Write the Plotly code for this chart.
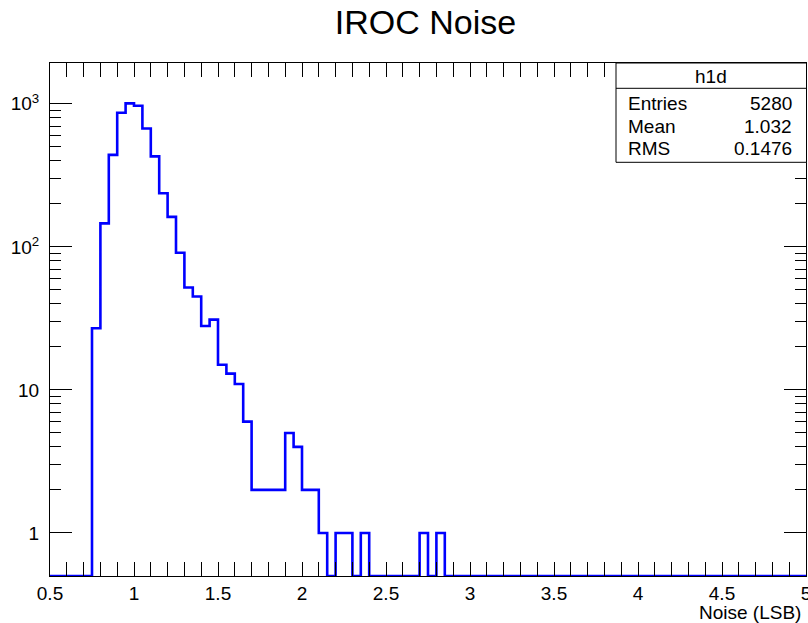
import plotly.graph_objects as go
import math

# Histogram definition (h1d): 90 bins from 0.5 to 5.0
x_lo = 0.5
x_hi = 5.0
n_bins = 90

# Bin contents (bins of width 0.05 starting at 0.5)
counts = [
    0, 0, 0, 0, 0,            # 0.50 - 0.75
    27, 146, 440, 866, 1008,  # 0.75 - 1.00
    970, 673, 429, 237, 162,  # 1.00 - 1.25
    91, 52, 45, 28, 31,       # 1.25 - 1.50
    15, 13, 11, 6, 2,         # 1.50 - 1.75
    2, 2, 2, 5, 4,            # 1.75 - 2.00
    2, 2, 1, 0, 1,            # 2.00 - 2.25
    1, 0, 1, 0, 0,            # 2.25 - 2.50
    0, 0, 0, 0, 1,            # 2.50 - 2.75
    0, 1, 0, 0, 0,            # 2.75 - 3.00
    0, 0, 0, 0, 0, 0, 0, 0, 0, 0,   # 3.00 - 3.50
    0, 0, 0, 0, 0, 0, 0, 0, 0, 0,   # 3.50 - 4.00
    0, 0, 0, 0, 0, 0, 0, 0, 0, 0,   # 4.00 - 4.50
    0, 0, 0, 0, 0, 0, 0, 0, 0, 0,   # 4.50 - 5.00
]

title_text = "IROC Noise"
x_title = "Noise (LSB)"
stats_name = "h1d"
stats_labels = ["Entries", "Mean", "RMS"]
stats_values = ["5280", "1.032", "0.1476"]

y_tickvals = [1, 10, 100, 1000]
y_ticktext = ["1", "10", "10<sup>2</sup>", "10<sup>3</sup>"]
y_minor_vals = [m * d for d in (1, 10, 100, 1000) for m in range(2, 10)]

y_min = 0.5
y_max = 1930.0

bin_w = (x_hi - x_lo) / n_bins
edges = [x_lo + i * bin_w for i in range(n_bins + 1)]
y_plot = [max(c, y_min) for c in counts]
y_plot = y_plot + [y_plot[-1]]

yr = [math.log10(y_min), math.log10(y_max)]

FONT = "Liberation Sans, Arial, Helvetica, sans-serif"

fig = go.Figure()
fig.add_trace(go.Scatter(
    x=edges, y=y_plot, mode="lines", line_shape="hv",
    line=dict(color="#0000ff", width=2.6), showlegend=False,
    hoverinfo="skip", yaxis="y",
))
# invisible trace on the minor-tick overlay axis
fig.add_trace(go.Scatter(
    x=[x_lo], y=[1], mode="markers", marker=dict(opacity=0),
    showlegend=False, hoverinfo="skip", yaxis="y2",
))

fig.update_layout(
    width=808, height=623,
    margin=dict(l=50, r=2, t=63, b=47),
    paper_bgcolor="white", plot_bgcolor="white",
    font=dict(family=FONT, size=19, color="black"),
    title=dict(text=title_text, x=0.5266, xanchor="center", y=1 - 22 / 623,
               yanchor="middle", font=dict(size=34, family=FONT)),
    xaxis=dict(
        range=[x_lo, x_hi], tick0=0.5, dtick=0.5, ticks="inside", ticklen=14,
        tickcolor="black", tickwidth=1, showline=True, linecolor="black",
        linewidth=1, mirror="allticks", showgrid=False, zeroline=False,
        minor=dict(dtick=0.1, tick0=0.5, ticks="inside", ticklen=7,
                   tickcolor="black", tickwidth=1, showgrid=False),
        tickfont=dict(size=19), ticklabeloverflow="allow", automargin=False,
    ),
    yaxis=dict(
        type="log", range=yr, tickvals=y_tickvals, ticktext=y_ticktext,
        ticks="inside", ticklen=22, tickcolor="black", tickwidth=1,
        showline=True, linecolor="black", linewidth=1, mirror="allticks",
        showgrid=False, zeroline=False, tickfont=dict(size=19),
        ticklabelstandoff=6, automargin=False,
    ),
    yaxis2=dict(
        type="log", range=yr, overlaying="y", side="left",
        tickvals=y_minor_vals, showticklabels=False, ticks="inside",
        ticklen=11, tickcolor="black", tickwidth=1, mirror="allticks",
        showline=False, showgrid=False, zeroline=False, automargin=False,
    ),
)

# Stats box
pw = 756.0
ph = 513.0
def px_x(x):
    return (x - 50) / pw
def px_y(y):
    return (576 - y) / ph

box_x0, box_x1 = px_x(616), px_x(806.5)
box_y1, box_y0 = 1.0, px_y(162.3)
fig.add_shape(type="rect", xref="paper", yref="paper", x0=box_x0, x1=box_x1,
              y0=box_y0, y1=box_y1, line=dict(color="black", width=1),
              fillcolor="white", layer="above")
fig.add_shape(type="line", xref="paper", yref="paper", x0=box_x0, x1=box_x1,
              y0=px_y(88.3), y1=px_y(88.3), line=dict(color="black", width=1))
fig.add_annotation(text=stats_name, xref="paper", yref="paper",
                   x=(box_x0 + box_x1) / 2, y=px_y(76.7), xanchor="center",
                   yanchor="middle", showarrow=False, font=dict(size=19))
row_y = [103.3, 126.0, 148.3]
for lab, val, yy in zip(stats_labels, stats_values, row_y):
    fig.add_annotation(text=lab, xref="paper", yref="paper", x=px_x(626),
                       y=px_y(yy), xanchor="left", yanchor="middle",
                       showarrow=False, font=dict(size=19))
    fig.add_annotation(text=val, xref="paper", yref="paper", x=px_x(794),
                       y=px_y(yy), xanchor="right", yanchor="middle",
                       showarrow=False, font=dict(size=19))

fig.add_annotation(text=x_title, xref="paper", yref="paper", x=px_x(803),
                   y=px_y(612), xanchor="right", yanchor="middle",
                   showarrow=False, font=dict(size=19))

fig.write_html("out.html")
